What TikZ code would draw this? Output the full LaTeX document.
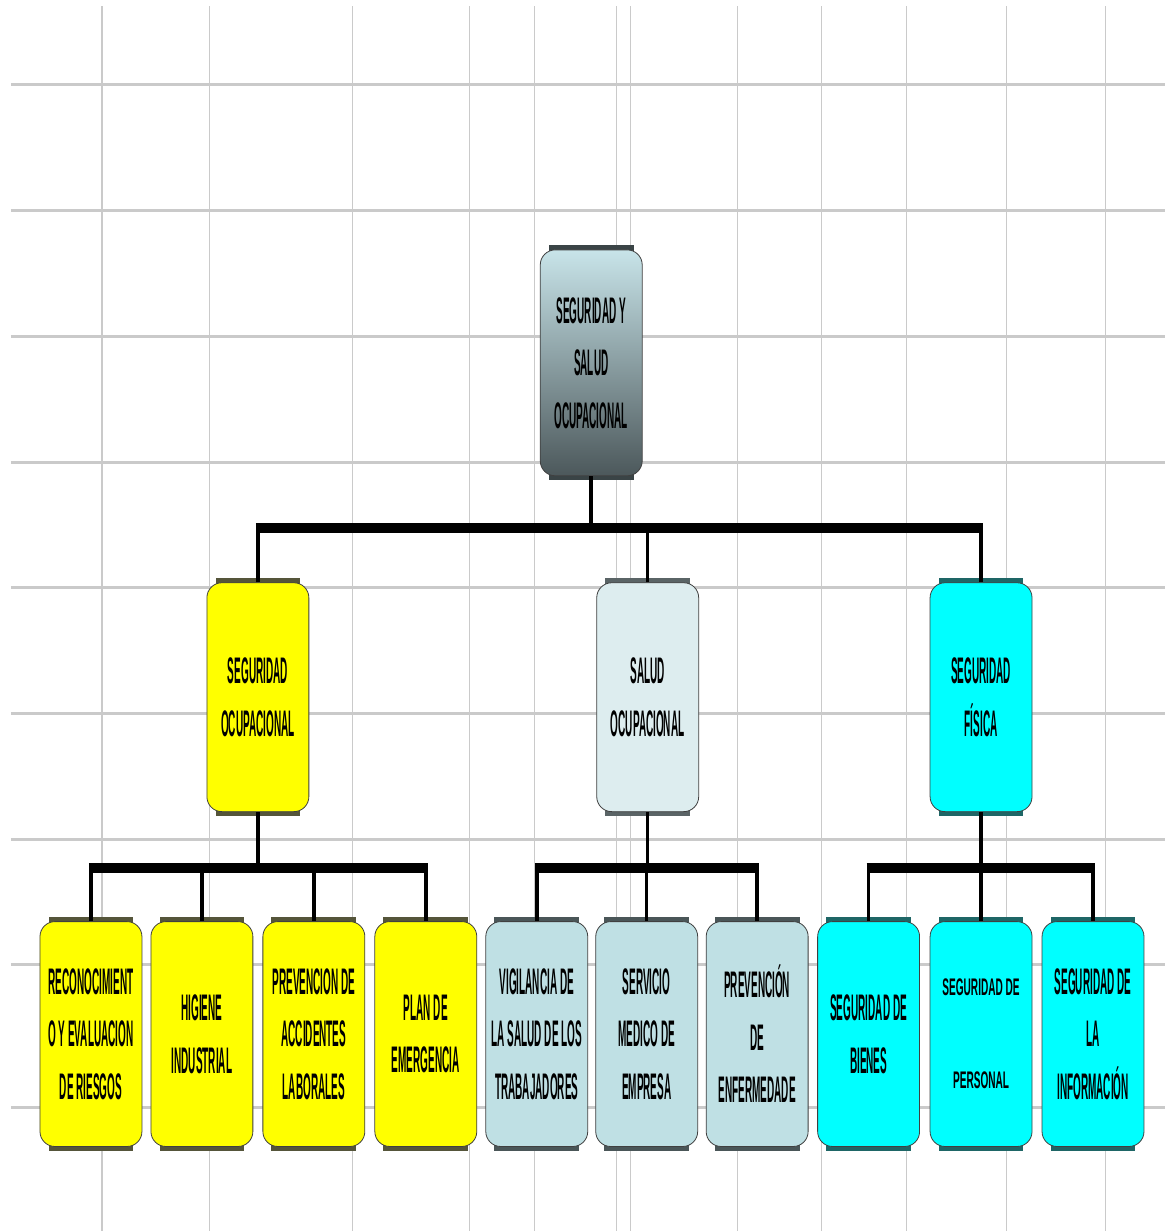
\documentclass[tikz,border=0pt]{standalone}
\usepackage{fontspec}
\usetikzlibrary{calc}
\newfontfamily\nfont{Liberation Sans}[FakeStretch=0.27]
\newfontfamily\pfont{Liberation Sans}[FakeStretch=0.42]
\definecolor{rootT}{HTML}{C8E4E9}
\definecolor{rootB}{HTML}{4C585B}
\definecolor{rootS}{HTML}{3A4446}
\definecolor{ycol}{HTML}{FFFF00}
\definecolor{yS}{HTML}{55553A}
\definecolor{ccol}{HTML}{00FFFF}
\definecolor{cS}{HTML}{1E6666}
\definecolor{lbcol}{HTML}{BFE0E4}
\definecolor{lbS}{HTML}{4A5658}
\definecolor{sacol}{HTML}{DDEDEF}
\definecolor{saS}{HTML}{5A6466}
\definecolor{gridc}{HTML}{CACACA}
\pgfdeclarelayer{gridlayer}
\pgfdeclarelayer{shadelayer}
\pgfsetlayers{gridlayer,shadelayer,main}
\begin{document}
\begin{tikzpicture}[x=1pt,y=-1pt,
  hgrid/.style={draw=gridc, line width=3pt},
  vgrid/.style={draw=gridc, line width=1.1pt},
  box/.style={draw=black!75, line width=0.8pt, rounded corners=15pt,
    minimum width=102pt, minimum height=225pt, inner sep=0pt, align=center,
    font=\nfont\bfseries\fontsize{37}{52.5}\selectfont},
  ybox/.style={box, fill=ycol},
  cbox/.style={box, fill=ccol},
  lbbox/.style={box, fill=lbcol},
  sabox/.style={box, fill=sacol, minimum height=229pt},
  rootbox/.style={box, top color=rootT, bottom color=rootB, minimum height=226pt},
  stem/.style={draw=black, line width=3.5pt},
  bar/.style={draw=black, line width=10pt}
]
% grid
\begin{pgfonlayer}{gridlayer}
\fill[white] (0,0) rectangle (1171,1232);
\foreach \yy in {85,211,337,463,588,714,840,965,1108}
  \draw[hgrid] (11,\yy) -- (1166,\yy);
\foreach \xx in {102,210,353,470,535,617,631,738,822,907,1007,1106}
  \draw[vgrid] (\xx,6) -- (\xx,1232);
\end{pgfonlayer}

% nodes
\node[rootbox] (root) at (591.5,363) {SEGURIDAD Y\\SALUD\\OCUPACIONAL};
\node[ybox, minimum height=229pt] (so) at (258,697.5) {SEGURIDAD\\OCUPACIONAL};
\node[sabox] (sa) at (648,697.5) {SALUD\\OCUPACIONAL};
\node[cbox, minimum height=229pt] (sf) at (981.5,697.5) {SEGURIDAD\\FÍSICA};

\node[ybox] (rec) at (91,1034.5) {RECONOCIMIENT\\O Y EVALUACION\\DE RIESGOS};
\node[ybox] (hig) at (202,1034.5) {HIGIENE\\INDUSTRIAL};
\node[ybox] (pac) at (314,1034.5) {PREVENCION DE\\ACCIDENTES\\LABORALES};
\node[ybox] (pla) at (426,1034.5) {PLAN DE\\EMERGENCIA};
\node[lbbox] (vig) at (537,1034.5) {VIGILANCIA DE\\LA SALUD DE LOS\\TRABAJADORES};
\node[lbbox] (ser) at (647,1034.5) {SERVICIO\\MEDICO DE\\EMPRESA};
\node[lbbox] (pen) at (757.5,1034.5) {PREVENCIÓN\\DE\\ENFERMEDADE};
\node[cbox] (sbi) at (869,1034.5) {SEGURIDAD DE\\BIENES};
\node[cbox, font=\pfont\bfseries\fontsize{24}{46.5}\selectfont] (spe) at (981.5,1034.5) {SEGURIDAD DE\\[46.5pt]PERSONAL};
\node[cbox] (sin) at (1093.5,1034.5) {SEGURIDAD DE\\LA\\INFORMACIÓN};

% shadow bands
\begin{pgfonlayer}{shadelayer}
\foreach \n/\c in {root/rootS,so/yS,sa/saS,sf/cS,rec/yS,hig/yS,pac/yS,pla/yS,vig/lbS,ser/lbS,pen/lbS,sbi/cS,spe/cS,sin/cS}
  \fill[\c] ($(\n.north west)+(9,-4)$) rectangle ($(\n.south east)+(-9,4)$);
\end{pgfonlayer}

% junction coordinates
\coordinate (j1) at (591.5,528);
\coordinate (j2) at (258,868);
\coordinate (j3) at (648,868);
\coordinate (j4) at (981.5,868);

% level 1
\draw[stem] (root.south) -- (root.south |- j1);
\draw[bar] ($(so.north |- j1)+(-2,0)$) -- ($(sf.north |- j1)+(2,0)$);
\foreach \n in {so,sa,sf}
  \draw[stem] (\n.north) -- (\n.north |- j1);

% level 2 groups
\draw[stem] (so.south) -- (so.south |- j2);
\draw[bar] ($(rec.north |- j2)+(-2,0)$) -- ($(pla.north |- j2)+(2,0)$);
\foreach \n in {rec,hig,pac,pla}
  \draw[stem] (\n.north) -- (\n.north |- j2);

\draw[stem] (sa.south) -- (sa.south |- j3);
\draw[bar] ($(vig.north |- j3)+(-2,0)$) -- ($(pen.north |- j3)+(2,0)$);
\foreach \n in {vig,ser,pen}
  \draw[stem] (\n.north) -- (\n.north |- j3);

\draw[stem] (sf.south) -- (sf.south |- j4);
\draw[bar] ($(sbi.north |- j4)+(-2,0)$) -- ($(sin.north |- j4)+(2,0)$);
\foreach \n in {sbi,spe,sin}
  \draw[stem] (\n.north) -- (\n.north |- j4);
\end{tikzpicture}
\end{document}
